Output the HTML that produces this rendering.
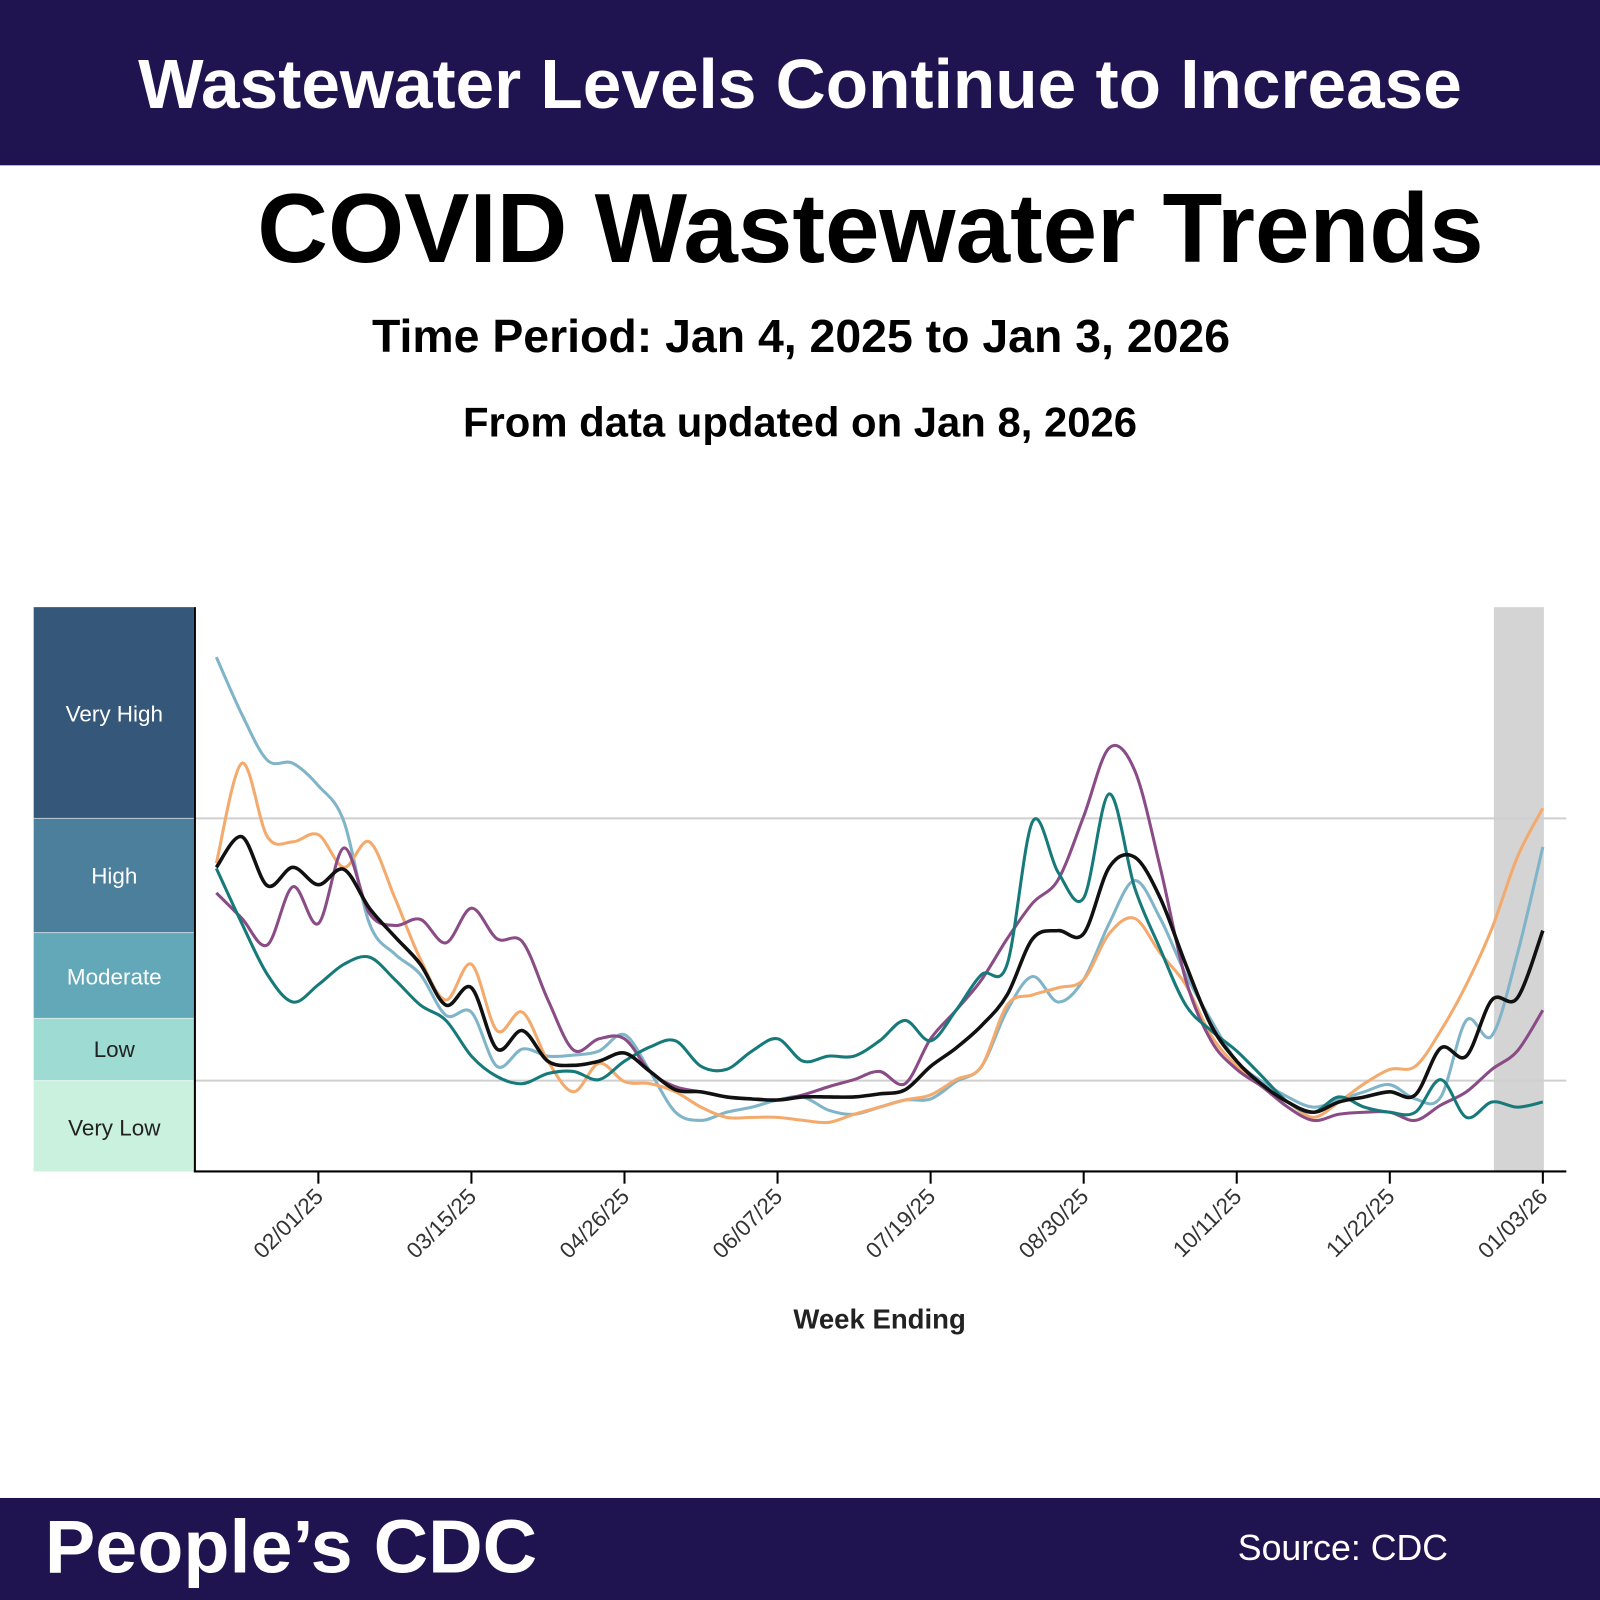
<!DOCTYPE html>
<html><head><meta charset="utf-8"><style>html,body{margin:0;padding:0;background:#fff}svg{display:block}</style></head>
<body>
<svg id="root" width="1600" height="1600" viewBox="0 0 1568 1568" xmlns="http://www.w3.org/2000/svg" font-family="Liberation Sans, Arial, sans-serif">
<rect x="0" y="0" width="1568" height="162" fill="#1f1350"/>
<text x="784" y="106" text-anchor="middle" fill="#fff" font-weight="bold" font-size="68">Wastewater Levels Continue to Increase</text>
<text x="853" y="257" text-anchor="middle" fill="#000" font-weight="bold" font-size="96">COVID Wastewater Trends</text>
<text x="785" y="345" text-anchor="middle" fill="#000" font-weight="bold" font-size="45.5">Time Period: Jan 4, 2025 to Jan 3, 2026</text>
<text x="784" y="428" text-anchor="middle" fill="#000" font-weight="bold" font-size="41">From data updated on Jan 8, 2026</text>
<g>
<rect x="33" y="595" width="157" height="207" fill="#35577a"/>
<rect x="33" y="802" width="157" height="112" fill="#4b7f9b"/>
<rect x="33" y="914" width="157" height="84" fill="#63a8b8"/>
<rect x="33" y="998" width="157" height="61" fill="#9edbd2"/>
<rect x="33" y="1059" width="157" height="89" fill="#c9f1dd"/>
<line x1="33" x2="190" y1="802" y2="802" stroke="#fff" stroke-opacity="0.6"/>
<line x1="33" x2="190" y1="914" y2="914" stroke="#fff" stroke-opacity="0.6"/>
<line x1="33" x2="190" y1="998" y2="998" stroke="#fff" stroke-opacity="0.6"/>
<line x1="33" x2="190" y1="1059" y2="1059" stroke="#fff" stroke-opacity="0.6"/>
<g font-size="22" text-anchor="middle">
<text x="112" y="707" fill="#fff">Very High</text>
<text x="112" y="866" fill="#fff">High</text>
<text x="112" y="965" fill="#fff">Moderate</text>
<text x="112" y="1036" fill="#222">Low</text>
<text x="112" y="1113" fill="#222">Very Low</text>
</g></g>
<rect x="1464" y="595" width="49" height="553" fill="#d4d4d4"/>
<line x1="191" x2="1535" y1="802" y2="802" stroke="#cfcfcf" stroke-width="2"/>
<line x1="191" x2="1535" y1="1059" y2="1059" stroke="#cfcfcf" stroke-width="2"/>
<g id="series"></g>
<line x1="191" x2="191" y1="595" y2="1149" stroke="#000" stroke-width="2"/>
<line x1="190" x2="1535" y1="1148" y2="1148" stroke="#000" stroke-width="2"/>
<g id="xticks"></g>
<text x="862" y="1302" text-anchor="middle" fill="#222" font-weight="bold" font-size="27">Week Ending</text>
<rect x="0" y="1468" width="1568" height="100" fill="#1f1350"/>
<text x="44" y="1541" fill="#fff" font-weight="bold" font-size="74">People’s CDC</text>
<text x="1213" y="1529" fill="#fff" font-size="35">Source: CDC</text>
</svg>
<script>
const weekIndexStart = 0;
const tickWeeks = [4, 10, 16, 22, 28, 34, 40, 46, 52];
const tickLabels = ["02/01/25","03/15/25","04/26/25","06/07/25","07/19/25","08/30/25","10/11/25","11/22/25","01/03/26"];
const lightBlue = [50.4,44.8,40.3,40.0,37.8,34.3,24.3,21.3,19.3,15.3,15.6,10.3,12.0,11.3,11.4,11.8,13.4,9.8,5.8,5.0,5.8,6.3,7.0,7.3,6.0,5.6,6.3,7.0,7.1,8.8,10.3,15.8,19.1,16.6,18.8,24.3,28.5,24.8,19.3,14.8,10.8,8.8,7.3,6.3,7.0,7.8,8.5,7.1,7.3,14.8,13.3,21.3,31.8];
const orange = [30.2,40.0,32.8,32.3,33.0,29.8,32.3,26.8,20.8,16.8,20.3,13.8,15.6,10.8,7.8,10.6,8.8,8.6,7.8,6.3,5.3,5.3,5.3,5.0,4.8,5.6,6.3,7.0,7.5,9.0,10.3,16.3,17.3,18.0,18.8,23.3,24.8,21.4,18.3,13.3,10.3,8.3,6.8,5.3,6.8,8.6,10.0,10.3,13.8,18.3,23.8,30.8,35.6];
const purple = [27.3,24.8,22.2,27.9,24.3,31.7,25.3,24.1,24.7,22.4,25.8,22.8,22.5,16.8,11.9,13.0,13.0,9.8,8.3,7.8,7.3,7.1,7.0,7.5,8.3,9.0,9.8,8.6,13.0,15.8,18.8,22.8,26.3,28.6,34.8,41.5,39.3,29.8,18.8,12.8,10.0,8.3,6.3,5.0,5.6,5.8,5.8,5.0,6.5,7.8,10.0,11.8,15.8];
const teal = [29.7,24.3,19.3,16.6,18.3,20.3,21.0,18.8,16.3,14.8,11.3,9.3,8.6,9.6,9.8,9.0,10.8,12.2,12.8,10.3,10.0,11.8,13.0,10.8,11.3,11.3,12.8,14.8,12.8,15.8,19.3,20.3,34.3,29.3,26.8,37.0,27.8,21.8,16.3,13.8,11.8,9.3,6.8,5.8,7.3,6.3,5.8,5.8,9.0,5.3,6.8,6.3,6.8];
const national = [29.8,32.8,28.0,29.8,28.1,29.6,25.8,23.0,20.3,16.3,18.0,12.0,13.8,10.8,10.4,10.8,11.6,9.8,8.0,7.8,7.3,7.1,7.0,7.3,7.3,7.3,7.6,8.0,10.3,12.1,14.3,17.3,22.8,23.6,23.3,29.8,30.8,26.8,20.3,14.3,10.8,8.5,6.8,5.8,6.8,7.3,7.8,7.5,12.1,11.3,16.8,17.0,23.6];

const xScale = w => 212 + 25 * w;
const yScale = v => 1148 - v * 10;
const NS = "http://www.w3.org/2000/svg";

function smoothPath(vals) {
  const p = vals.map((v, i) => [xScale(weekIndexStart + i), yScale(v)]);
  let d = "M" + p[0][0] + "," + p[0][1];
  for (let i = 0; i < p.length - 1; i++) {
    const p0 = p[i - 1] || p[i], p1 = p[i], p2 = p[i + 1], p3 = p[i + 2] || p2;
    const c1 = [p1[0] + (p2[0] - p0[0]) / 6, p1[1] + (p2[1] - p0[1]) / 6];
    const c2 = [p2[0] - (p3[0] - p1[0]) / 6, p2[1] - (p3[1] - p1[1]) / 6];
    d += " C" + c1[0].toFixed(1) + "," + c1[1].toFixed(1) + " " + c2[0].toFixed(1) + "," + c2[1].toFixed(1) + " " + p2[0] + "," + p2[1].toFixed(1);
  }
  return d;
}
const g = document.getElementById("series");
function addLine(vals, color, width, name) {
  const el = document.createElementNS(NS, "path");
  el.setAttribute("d", smoothPath(vals));
  el.setAttribute("fill", "none");
  el.setAttribute("stroke", color);
  el.setAttribute("stroke-width", width);
  el.setAttribute("stroke-linejoin", "round");
  
  
  g.appendChild(el);
}
addLine(lightBlue, "#80b4c9", 3, "line-west");
addLine(orange, "#f4aa6c", 3, "line-midwest");
addLine(purple, "#8a4c86", 3, "line-northeast");
addLine(teal, "#177a7a", 3, "line-south");
addLine(national, "#111111", 3.5, "line-national");

const tg = document.getElementById("xticks");
tickWeeks.forEach((w, i) => {
  const x = xScale(w);
  const t = document.createElementNS(NS, "line");
  t.setAttribute("x1", x); t.setAttribute("x2", x);
  t.setAttribute("y1", 1148); t.setAttribute("y2", 1160);
  t.setAttribute("stroke", "#000"); t.setAttribute("stroke-width", 2);
  
  
  tg.appendChild(t);
  const lb = document.createElementNS(NS, "text");
  lb.setAttribute("x", x + 6);
  lb.setAttribute("y", 1174);
  lb.setAttribute("text-anchor", "end");
  lb.setAttribute("font-size", "22");
  lb.setAttribute("fill", "#333");
  lb.setAttribute("transform", "rotate(-45 " + (x + 6) + " 1174)");
  lb.textContent = tickLabels[i];
  
  
  tg.appendChild(lb);
});
</script>
</body></html>
